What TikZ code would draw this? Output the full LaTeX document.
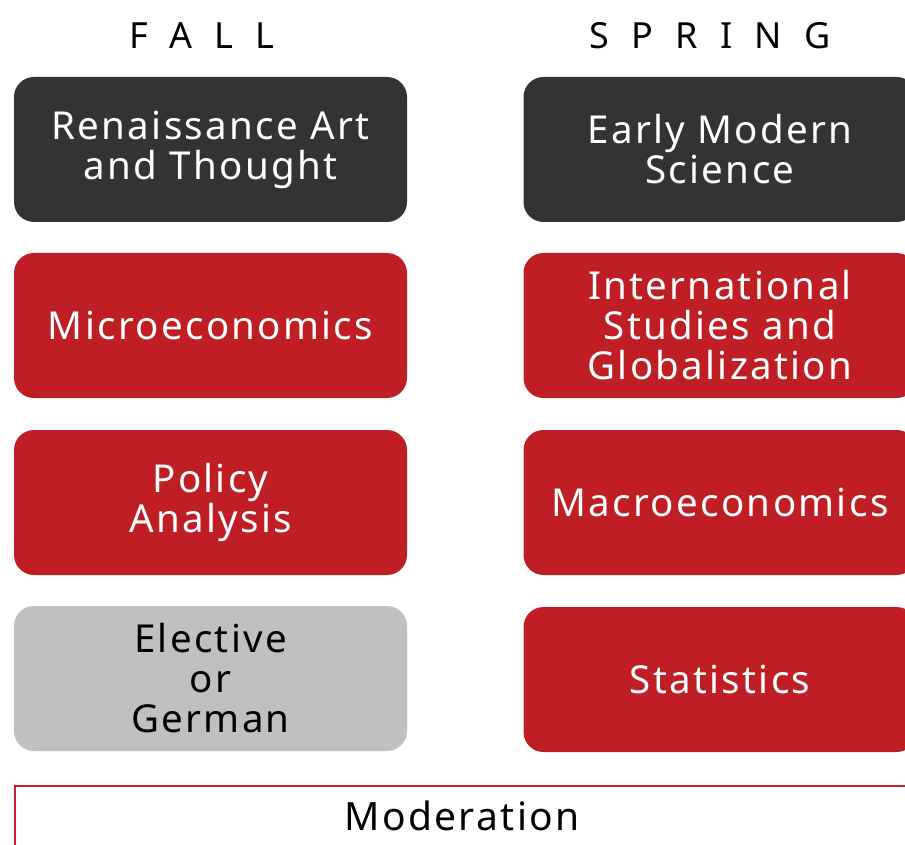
\documentclass[tikz,border=0pt]{standalone}
\usepackage{fontspec}
\setmainfont{Noto Sans}
\newfontfamily\headfont[LetterSpace=62]{Noto Sans}
\newfontfamily\coursefont[LetterSpace=6]{Noto Sans}
\definecolor{darkcourse}{HTML}{333333}
\definecolor{redcourse}{HTML}{BE1E24}
\definecolor{graycourse}{HTML}{C0C0C0}
\definecolor{modline}{HTML}{C8242C}
\tikzset{
	course/.style={rounded corners=20pt,minimum width=393pt,minimum height=145pt,
		inner sep=0pt,align=center,text=white,font=\coursefont\fontsize{38.5}{40}\selectfont},
	darkbox/.style={course,fill=darkcourse},
	redbox/.style={course,fill=redcourse},
	graybox/.style={course,fill=graycourse,text=black},
	term/.style={anchor=base west,inner sep=0pt,font=\headfont\fontsize{36}{40}\selectfont}
}
\begin{document}
\begin{tikzpicture}[x=1pt,y=-1pt]
	\clip (0,0) rectangle (905,845);
	\node[term] (fall) at (129,49) {FALL};
	\node[term] (spring) at (589,49) {SPRING};
	% fall column
	\node[darkbox] (art) at (210.5,149.5) {Renaissance Art\\and Thought};
	\node[redbox] (micro) at (210.5,325.5) {Microeconomics};
	\node[redbox] (policy) at (210.5,502.5) {Policy\\Analysis};
	\node[graybox] (elective) at (210.5,678.5) {Elective\\or\\German};
	% spring column
	\node[darkbox] (science) at (720,149.5) {Early Modern\\Science};
	\node[redbox] (intl) at (720,325.5) {International\\Studies and\\Globalization};
	\node[redbox] (macro) at (720,502.5) {Macroeconomics};
	\node[redbox] (stats) at (720,679.5) {Statistics};
	% moderation
	\draw[modline,line width=2.5pt] (15,880) |- (911,786) -- (911,880);
	\node[anchor=base,inner sep=0pt,font=\coursefont\fontsize{39}{40}\selectfont] (mod) at (462,830) {Moderation};
\end{tikzpicture}
\end{document}
